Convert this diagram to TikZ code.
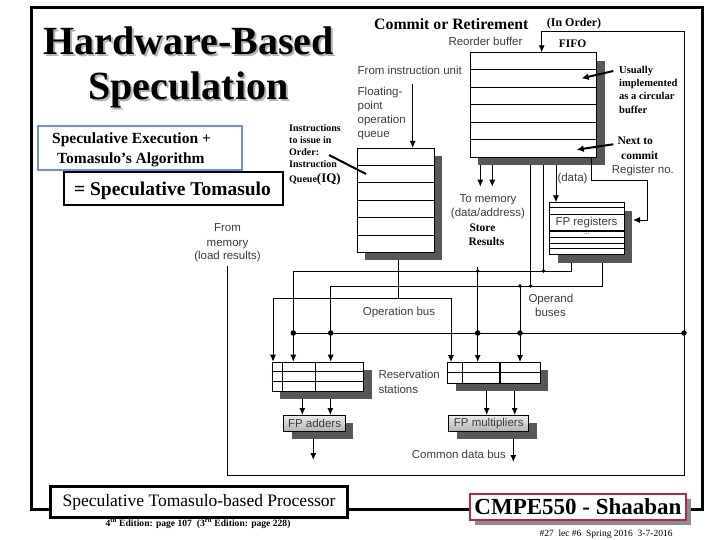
\documentclass[tikz,border=0pt]{standalone}
\usepackage{fontspec}
\setmainfont{Liberation Serif}
\newfontfamily\arialfont{Liberation Sans}
\usetikzlibrary{arrows.meta,shadows,backgrounds,calc}
\definecolor{lblgray}{RGB}{60,60,60}
\definecolor{shgray}{RGB}{88,88,88}
\definecolor{bluecol}{RGB}{110,143,212}
\definecolor{redcol}{RGB}{180,40,70}
\tikzset{
 lbl/.style={font=\arialfont\fontsize{11.5}{13}\selectfont, text=lblgray, inner sep=0pt, anchor=base west},
 sbold/.style={font=\bfseries\fontsize{#1}{#1}\selectfont, inner sep=0pt, anchor=base west},
 unitbox/.style={draw, line width=0.8pt, fill=white, inner sep=0pt, anchor=north west,
   general shadow={fill=shgray, shadow xshift=8pt, shadow yshift=-8pt}},
 fpunit/.style={draw, line width=0.8pt, top color=black!8, bottom color=black!30, inner sep=0pt, anchor=north west,
   general shadow={fill=shgray, shadow xshift=8pt, shadow yshift=-8pt},
   font=\arialfont\fontsize{11.5}{13}\selectfont, text=lblgray},
 wire/.style={line width=0.9pt},
 arr/.style={wire, -{Latex[length=7pt,width=6pt]}},
 bigarr/.style={line width=2pt, -{Latex[length=7pt,width=7pt]}},
 jdot/.style={circle, fill, inner sep=0pt, minimum size=5.5pt},
 sdot/.style={circle, fill, inner sep=0pt, minimum size=3.6pt},
 titlef/.style={font=\bfseries\fontsize{40}{40}\selectfont, inner sep=0pt, anchor=base},
}
\begin{document}
\begin{tikzpicture}[x=1pt,y=-1pt]
\useasboundingbox (0,0) rectangle (720,540);
% outer frame
\draw[line width=3pt] (31.5,7.5) rectangle (702,509.5);

% title with its gray shadow
\node[titlef] (t1) at (188.5,55) {\makebox[0pt][l]{\hspace{2pt}\raisebox{-2pt}{\textcolor{black!30}{Hardware-Based}}}Hardware-Based};
\node[titlef] (t2) at (188.5,100) {\makebox[0pt][l]{\hspace{2pt}\raisebox{-2pt}{\textcolor{black!30}{Speculation}}}Speculation};

% blue box
\node[draw=bluecol, line width=2pt, anchor=north west, minimum width=204pt, minimum height=44pt, inner sep=0pt] (sebox) at (37,125) {};
\node[sbold=15.5] (se1) at (52,143.5) {Speculative Execution +};
\node[sbold=15.5] (se2) at (57,163.5) {Tomasulo’s Algorithm};
% = Speculative Tomasulo
\node[draw, line width=2pt, fill=white, minimum width=219pt, minimum height=33pt, anchor=north west, inner sep=0pt] (stbox) at (63,171) {};
\node[sbold=19.5, anchor=base] (st) at (172.5,195.5) {= Speculative Tomasulo};

% instruction queue annotation
\node[sbold=10] (iqa1) at (289,132) {Instructions};
\node[sbold=10] (iqa2) at (289,144) {to issue in};
\node[sbold=10] (iqa3) at (289,156) {Order:};
\node[sbold=10] (iqa4) at (289,168) {Instruction};
\node[sbold=10] (iqa5) at (289,182.5) {Queue\fontsize{13}{13}\selectfont(IQ)};

% gray labels
\node[lbl] (fiul) at (357.5,75) {From instruction unit};
\node[lbl] (fpq1) at (357.5,96) {Floating-};
\node[lbl] (fpq2) at (357.5,109.8) {point};
\node[lbl] (fpq3) at (357.5,123.6) {operation};
\node[lbl] (fpq4) at (357.5,137.4) {queue};
\node[lbl] (robl) at (448.3,46) {Reorder buffer};
\node[lbl] (regno) at (611.7,174) {Register no.};
\node[lbl] (datal) at (557.3,182) {(data)};
\node[lbl, anchor=base] (tm1) at (488,202.5) {To memory};
\node[lbl, anchor=base] (tm2) at (488,216.8) {(data/address)};
\node[lbl, anchor=base] (fm1) at (227.5,231.5) {From};
\node[lbl, anchor=base] (fm2) at (227.5,246) {memory};
\node[lbl, anchor=base] (fm3) at (227.5,259.5) {(load results)};
\node[lbl] (opbl) at (362.7,315) {Operation bus};
\node[lbl] (opd1) at (528.3,302) {Operand};
\node[lbl] (opd2) at (535,316.8) {buses};
\node[lbl] (rsl1) at (378.3,378) {Reservation};
\node[lbl] (rsl2) at (378.3,393) {stations};
\node[lbl] (cdbl) at (411.7,458.5) {Common data bus};

% bold serif labels
\node[sbold=15.8] (commit) at (374,30) {Commit or Retirement};
\node[sbold=12] (inord) at (546.7,27) {(In Order)};
\node[sbold=11.5] (fifo) at (558.7,48) {FIFO};
\node[sbold=10.5] (us1) at (619,73.5) {Usually};
\node[sbold=10.5] (us2) at (619,86.8) {implemented};
\node[sbold=10.5] (us3) at (619,100) {as a circular};
\node[sbold=10.5] (us4) at (619,113.5) {buffer};
\node[sbold=11.5] (nc1) at (617.3,145) {Next to};
\node[sbold=11.5] (nc2) at (621,159.5) {commit};
\node[sbold=11.5] (sr1) at (469.3,231.5) {Store};
\node[sbold=11.5] (sr2) at (468.3,245.5) {Results};

% instruction queue
\node[unitbox, minimum width=77pt, minimum height=104pt] (iq) at (357,148) {};
\foreach \yy in {165,182.3,200.3,217.3,235} \draw[line width=0.8pt] (357,\yy) -- (434,\yy);
% reorder buffer
\node[unitbox, minimum width=126.3pt, minimum height=104.7pt] (rob) at (470,52.3) {};
\foreach \yy in {69.3,87,104.6,122.3,139.6} \draw[line width=0.8pt] (470,\yy) -- (596.3,\yy);
% FP registers
\node[unitbox, minimum width=74.4pt, minimum height=52pt] (fpr) at (549.3,202.3) {};
\foreach \yy in {207.6,214,237.3,243.3,248.7} \draw[line width=0.8pt] (549.3,\yy) -- (623.7,\yy);
\draw[line width=1.7pt] (549.3,230.7) -- (623.7,230.7);
\node[lbl, anchor=center] (fprl) at (586.5,222.5) {FP registers};
\node[lbl, anchor=center, font=\arialfont\fontsize{7}{7}\selectfont] (fprd) at (586.5,234) {...};
% reservation stations
\node[unitbox, minimum width=91.6pt, minimum height=29pt] (rs1) at (271.7,361.7) {};
\foreach \yy in {371.3,380.9} \draw[line width=0.8pt] (271.7,\yy) -- (363.3,\yy);
\foreach \xx in {282.3,315.7} \draw[line width=0.8pt] (\xx,361.7) -- (\xx,390.7);
\node[unitbox, minimum width=92.7pt, minimum height=20.7pt] (rs2) at (447.3,362) {};
\draw[line width=0.8pt] (447.3,372.3) -- (540,372.3);
\draw[line width=0.8pt] (462.3,362) -- (462.3,382.7);
\draw[line width=1.5pt] (500,362) -- (500,382.7);
% FP units
\node[fpunit, minimum width=61.7pt, minimum height=16pt] (fpa) at (283.3,415) {FP adders};
\node[fpunit, minimum width=80pt, minimum height=16pt] (fpm) at (448.3,415) {FP multipliers};

% bottom boxes
\node[draw, line width=3pt, fill=white, minimum width=296.4pt, minimum height=31pt, anchor=north west, inner sep=0pt,
  font=\fontsize{17.5}{17.5}\selectfont] (spb) at (49.3,485) {Speculative Tomasulo-based Processor};
\node[draw=redcol, line width=2pt, fill=white, minimum width=216pt, minimum height=26.6pt, anchor=north west, inner sep=0pt,
  general shadow={fill=black!45, shadow xshift=4.5pt, shadow yshift=-5pt},
  font=\bfseries\fontsize{23}{23}\selectfont] (cmpe) at (469,492.7) {CMPE550 - Shaaban};
\node[font=\bfseries\fontsize{9.6}{9.6}\selectfont, anchor=base, inner sep=0pt] (ed) at (198,526.5)
  {4\textsuperscript{th} Edition: page 107\ \ (3\textsuperscript{rd} Edition: page 228)};
\node[font=\fontsize{9.5}{9.5}\selectfont, anchor=base, inner sep=0pt] (lec) at (606,536.5)
  {\#27\ \ lec \#6\ \ Spring 2016\ \ 3-7-2016};

% connectors
\coordinate (fiu) at (412.7,84);
\coordinate (ip1) at (329,155);
\coordinate (ip2) at (366,174);
\coordinate (fmtop) at (227.5,266);
\coordinate (usA) at (613.3,71);
\coordinate (usB) at (581.7,78.3);
\coordinate (ncA) at (613.3,144.3);
\coordinate (ncB) at (576.7,149.7);
\coordinate (regin) at (633,220);
\begin{scope}[on background layer]
\draw[arr] (fiu) -- (fiu |- iq.north);
% from memory / CDB loop into ROB
\draw[arr] (fmtop) |- (684,475) |- (541.7,31.7) -- (rob.north -| 541.7,0);
\draw[wire] (293.3,333) -- (684,333);
% operation bus
\draw[wire] (iq.south -| 398.3,0) -- (398.3,298.3);
\draw[arr] (398.3,298.3) -| (rs1.north -| 273,0);
\draw[arr] (398.3,298.3) -| (rs2.north -| 451,0);
% operand bus 1
\draw[wire] (rob.south -| 543.5,0) -- (543.5,271);
\draw[wire] (fpr.south -| 571.7,0) |- (293.3,271);
\draw[arr] (293.3,271) -- (rs1.north -| 293.3,0);
\draw[arr] (477.7,267) -- (rs2.north -| 477.7,0);
% operand bus 2
\draw[wire] (rob.south -| 530.5,0) -- (530.5,286);
\draw[wire] (fpr.south -| 602.3,0) |- (330.7,286);
\draw[arr] (330.7,286) -- (rs1.north -| 330.7,0);
\draw[arr] (520,286) -- (rs2.north -| 520,0);
% ROB outputs
\draw[arr] (rob.south -| 480.3,0) -- (480.3,186.7);
\draw[arr] (rob.south -| 492.3,0) -- (492.3,186.7);
\draw[arr] (rob.south -| 556,0) -- (fpr.north -| 556,0);
% RS to units
\draw[arr] (rs1.south -| 302.3,0) -- (fpa.north -| 302.3,0);
\draw[arr] (rs1.south -| 330.3,0) -- (fpa.north -| 330.3,0);
\draw[arr] (rs2.south -| 486.7,0) -- (fpm.north -| 486.7,0);
\draw[arr] (rs2.south -| 514.7,0) -- (fpm.north -| 514.7,0);
\draw[arr] (fpa.south -| 313.3,0) -- (313.3,460);
\draw[arr] (fpm.south -| 513.3,0) -- (513.3,462);
\end{scope}
% pointers drawn over the boxes
\draw[line width=2pt] (ip1) -- (ip2);
\draw[bigarr] (usA) -- (usB);
\draw[bigarr] (ncA) -- (ncB);
\draw[arr] (rob.south -| 591.7,0) |- (647.7,180) |- (regin);
% junction dots
\foreach \xx in {293.3,330.7,477.7,520,684} \node[jdot] at (\xx,333) {};
\node[sdot] at (543.5,271) {};
\node[sdot] at (477.7,271) {};
\node[sdot] at (530.5,286) {};
\node[sdot] at (520,286) {};
\end{tikzpicture}
\end{document}
